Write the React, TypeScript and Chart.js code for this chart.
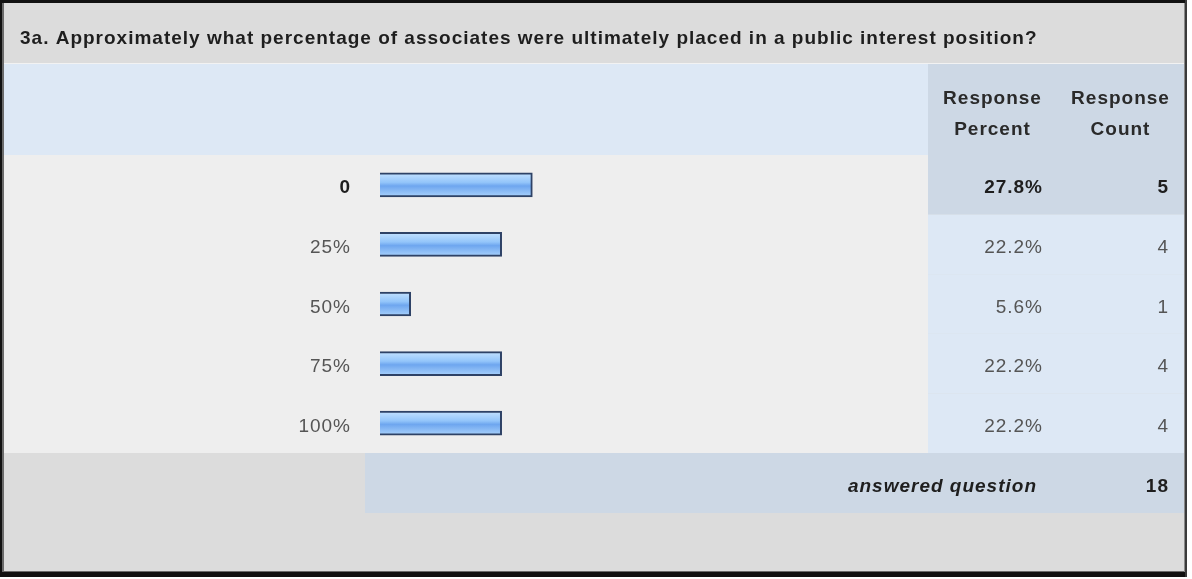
import React, { useEffect, useRef } from "react";
import { Chart, registerables } from "chart.js";

Chart.register(...registerables);

const TITLE =
  "3a. Approximately what percentage of associates were ultimately placed in a public interest position?";
const categories = ["0", "25%", "50%", "75%", "100%"];
const responsePercent = [27.8, 22.2, 5.6, 22.2, 22.2];
const responseCount = [5, 4, 1, 4, 4];
const answeredQuestion = 18;
const highlightIndex = 0;
const headerPercent = ["Response", "Percent"];
const headerCount = ["Response", "Count"];
const answeredLabel = "answered question";

const W = 1192;
const H = 579;
const FONT = '"Liberation Sans", Arial, sans-serif';
const FS = 19;
const SP = 1;

function drawText(
  ctx: CanvasRenderingContext2D,
  s: string,
  x: number,
  y: number,
  font: string,
  color: string,
  align: CanvasTextAlign
) {
  ctx.font = font;
  ctx.fillStyle = color;
  ctx.textAlign = align;
  ctx.textBaseline = "alphabetic";
  (ctx as any).letterSpacing = SP + "px";
  let xx = x;
  if (align === "right") xx = x + SP;
  else if (align === "center") xx = x + SP / 2;
  ctx.fillText(s, xx, y);
}

const tablePlugin = {
  id: "surveyTable",
  beforeDraw(chart: any) {
    const ctx: CanvasRenderingContext2D = chart.ctx;
    const ca = chart.chartArea;
    const n = categories.length;
    const band = (ca.bottom - ca.top) / n;
    const rightEdge = 1184;
    ctx.save();
    ctx.fillStyle = "#ffffff";
    ctx.fillRect(0, 0, W, H);
    ctx.fillStyle = "#dcdcdc";
    ctx.fillRect(0, 0, rightEdge, 574);
    ctx.fillStyle = "#f2f2f2";
    ctx.fillRect(0, 63, rightEdge, 1);
    ctx.fillStyle = "#dde8f5";
    ctx.fillRect(0, 64, rightEdge, ca.top - 64);
    ctx.fillStyle = "#eeeeee";
    ctx.fillRect(0, ca.top, ca.right, ca.bottom - ca.top);
    for (let i = 0; i < n; i++) {
      ctx.fillStyle = i === highlightIndex ? "#cdd8e5" : "#dde8f5";
      ctx.fillRect(ca.right, ca.top + i * band, rightEdge - ca.right, band);
    }
    ctx.fillStyle = "#cdd8e5";
    ctx.fillRect(ca.right, 64, rightEdge - ca.right, ca.top - 64);
    ctx.fillStyle = "#cdd8e5";
    ctx.fillRect(365, ca.bottom, rightEdge - 365, 60);
    ctx.restore();
  },
  afterDraw(chart: any) {
    const ctx: CanvasRenderingContext2D = chart.ctx;
    const ca = chart.chartArea;
    const yScale = chart.scales.y;
    const bold = `bold ${FS}px ${FONT}`;
    const reg = `${FS}px ${FONT}`;
    ctx.save();
    drawText(ctx, TITLE, 20, 44, bold, "#1e1e1e", "left");
    drawText(ctx, headerPercent[0], 992, 104, bold, "#2a2a2a", "center");
    drawText(ctx, headerPercent[1], 992, 135, bold, "#2a2a2a", "center");
    drawText(ctx, headerCount[0], 1120, 104, bold, "#2a2a2a", "center");
    drawText(ctx, headerCount[1], 1120, 135, bold, "#2a2a2a", "center");
    categories.forEach((c, i) => {
      const yc = yScale.getPixelForValue(i);
      const hl = i === highlightIndex;
      const font = hl ? bold : reg;
      const color = hl ? "#1e1e1e" : "#555555";
      drawText(ctx, c, 350, yc + 8.5, font, color, "right");
      drawText(ctx, responsePercent[i].toFixed(1) + "%", 1042, yc + 8.5, font, color, "right");
      drawText(ctx, String(responseCount[i]), 1168, yc + 8.5, font, color, "right");
    });
    const ay = ca.bottom + 39;
    drawText(ctx, answeredLabel, 1036, ay, `italic bold ${FS}px ${FONT}`, "#1e1e1e", "right");
    drawText(ctx, String(answeredQuestion), 1168, ay, bold, "#1e1e1e", "right");
    ctx.fillStyle = "#111111";
    ctx.fillRect(0, 0, 1187, 3);
    ctx.fillRect(0, 0, 2, 577);
    ctx.fillRect(0, 572, 1187, 5);
    ctx.fillStyle = "#6a6a6a";
    ctx.fillRect(2, 3, 2, 569);
    ctx.fillRect(4, 571, 1182, 1);
    ctx.fillStyle = "#8a8a8a";
    ctx.fillRect(1184, 3, 1, 569);
    ctx.fillStyle = "#3a3a3a";
    ctx.fillRect(1185, 0, 2, 577);
    ctx.restore();
  },
};

export default function App() {
  const ref = useRef<HTMLCanvasElement | null>(null);
  useEffect(() => {
    document.body.style.margin = "0";
    const canvas = ref.current;
    if (!canvas) return;
    const chart = new Chart(canvas, {
      type: "bar",
      data: {
        labels: categories,
        datasets: [
          {
            data: responsePercent,
            barThickness: 24,
            backgroundColor: (c: any) => {
              const ch = c.chart;
              const ys = ch.scales && ch.scales.y;
              if (!ys || c.dataIndex === undefined) return "#7fb5f3";
              const yc = ys.getPixelForValue(c.dataIndex);
              if (!Number.isFinite(yc)) return "#7fb5f3";
              const g = ch.ctx.createLinearGradient(0, yc - 12, 0, yc + 12);
              g.addColorStop(0, "#c4e2ff");
              g.addColorStop(0.4, "#93c5fa");
              g.addColorStop(0.55, "#6ea6ef");
              g.addColorStop(1, "#a9d2fc");
              return g;
            },
            borderColor: "#2e4266",
            borderWidth: 2,
            borderSkipped: "start",
          },
        ],
      },
      options: {
        indexAxis: "y",
        responsive: false,
        animation: false,
        devicePixelRatio: 1,
        layout: { padding: { left: 380, right: W - 928, top: 155, bottom: H - 453 } },
        scales: {
          x: { display: false, min: 0, max: 100 },
          y: { display: false },
        },
        plugins: {
          legend: { display: false },
          tooltip: { enabled: false },
          title: { display: false },
        },
      },
      plugins: [tablePlugin],
    } as any);
    return () => chart.destroy();
  }, []);
  return (
    <div style={{ width: W, height: H }}>
      <canvas ref={ref} width={W} height={H} style={{ display: "block" }} />
    </div>
  );
}
